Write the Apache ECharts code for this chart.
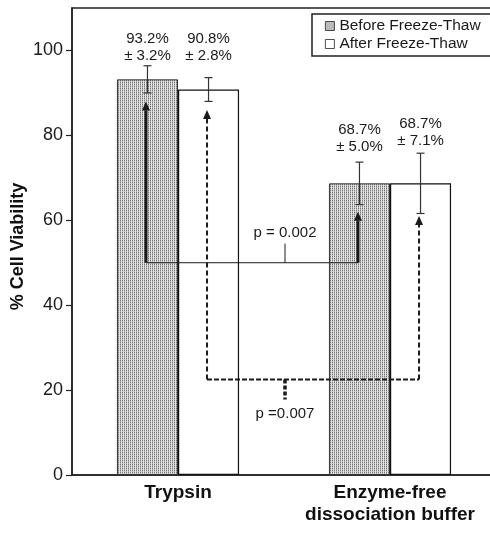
<!DOCTYPE html>
<html>
<head>
<meta charset="utf-8">
<script src="https://cdn.jsdelivr.net/npm/echarts@6/dist/echarts.min.js"></script>
<style>
  html, body { margin: 0; padding: 0; background: #fff; }
  #chart { width: 490px; height: 540px; }
</style>
</head>
<body>
<div id="chart"></div>
<script>
// ---- data ----
const categories = ['Trypsin', 'Enzyme-free\ndissociation buffer'];
const seriesNames = ['Before Freeze-Thaw', 'After Freeze-Thaw'];
const beforeValues = [93.2, 68.7];
const afterValues = [90.8, 68.7];
const beforeSD = [3.2, 5.0];
const afterSD = [2.8, 7.1];
const beforeLabelY = [100.7, 79.3];
const afterLabelY = [100.7, 80.8];
const yTicks = [0, 20, 40, 60, 80, 100];

// comparison brackets: p = 0.002 (before vs before), p = 0.007 (after vs after)
const bracketText = ['p = 0.002', 'p =0.007'];
const bracketGroup = [-1, 1];          // -1: before bars, 1: after bars
const bracketBase = [50, 22.5];
const bracketTipLeft = [88, 86];
const bracketTipRight = [62, 61];
const bracketTickEnd = [54.5, 17.8];
const bracketLabelY = [57, 14.4];
const bracketDashed = [false, true];

const BAR_FRAC = 0.288;
const FONT = '"Liberation Sans", Arial, Helvetica, sans-serif';
const INK = '#1a1a1a';

// texture for "before" bars
const pc = document.createElement('canvas');
pc.width = 2; pc.height = 2;
const pctx = pc.getContext('2d');
pctx.fillStyle = '#e4e4e4'; pctx.fillRect(0, 0, 2, 2);
pctx.fillStyle = '#767676'; pctx.fillRect(0, 0, 1, 1);
pctx.fillStyle = '#b2b2b2'; pctx.fillRect(0, 1, 1, 1);
const texture = { image: pc, repeat: 'repeat' };

function barCenter(api, cat, sign) {
  const band = api.size([1, 0])[0];
  return api.coord([cat, 0])[0] + sign * band * BAR_FRAC / 2;
}

const errorData = [];
const labelData = [];
for (let i = 0; i < categories.length; i++) {
  errorData.push([i, -1, beforeValues[i] - beforeSD[i], beforeValues[i] + beforeSD[i]]);
  errorData.push([i, 1, afterValues[i] - afterSD[i], afterValues[i] + afterSD[i]]);
  labelData.push([i, -1, beforeLabelY[i], beforeValues[i].toFixed(1) + '%\n± ' + beforeSD[i].toFixed(1) + '%']);
  labelData.push([i, 1, afterLabelY[i], afterValues[i].toFixed(1) + '%\n± ' + afterSD[i].toFixed(1) + '%']);
}

const chart = echarts.init(document.getElementById('chart'), null, { renderer: 'canvas' });

const option = {
  animation: false,
  backgroundColor: '#fff',
  grid: {
    left: 72, top: 8, right: -6, bottom: 65,
    outerBoundsMode: 'none',
    containLabel: false,
    show: true, borderColor: '#222', borderWidth: 1.5, backgroundColor: 'transparent'
  },
  legend: {
    data: seriesNames,
    orient: 'vertical',
    left: 312, top: 14,
    icon: 'rect',
    itemWidth: 9, itemHeight: 9, itemGap: 2,
    padding: [4, 40, 4, 13],
    borderColor: '#222', borderWidth: 1.5,
    backgroundColor: '#fff',
    selectedMode: false,
    itemStyle: { borderWidth: 0.8, borderColor: '#222' },
    textStyle: { fontFamily: FONT, fontSize: 15.5, color: INK }
  },
  xAxis: {
    type: 'category',
    data: categories,
    axisLine: { lineStyle: { color: '#222', width: 1.5 } },
    axisTick: { show: false },
    axisLabel: {
      fontFamily: FONT, fontSize: 19, fontWeight: 'bold', color: '#111',
      margin: 7, lineHeight: 22, interval: 0
    },
    splitLine: { show: false }
  },
  yAxis: {
    type: 'value',
    min: 0, max: 110, interval: 20,
    name: '% Cell Viability',
    nameLocation: 'middle',
    nameGap: 45,
    nameMoveOverlap: false,
    nameTextStyle: { fontFamily: FONT, fontSize: 18, fontWeight: 'bold', color: '#111', padding: [0, 10, 0, 0] },
    axisLine: { show: true, lineStyle: { color: '#222', width: 1.5 } },
    axisTick: { show: true, length: 6, customValues: yTicks, lineStyle: { color: '#222', width: 1.2 } },
    axisLabel: { fontFamily: FONT, fontSize: 18, color: INK, margin: 9, customValues: yTicks },
    splitLine: { show: false }
  },
  series: [
    {
      name: seriesNames[0], type: 'bar', data: beforeValues,
      barWidth: (BAR_FRAC * 100) + '%', barGap: '0%',
      itemStyle: { color: texture, borderColor: '#333', borderWidth: 1 }
    },
    {
      name: seriesNames[1], type: 'bar', data: afterValues,
      barWidth: (BAR_FRAC * 100) + '%', barGap: '0%',
      itemStyle: { color: '#fff', borderColor: '#111', borderWidth: 1.2 }
    },
    {
      name: 'errors', type: 'custom', data: errorData, z: 5,
      renderItem(params, api) {
        const cat = api.value(0), sign = api.value(1);
        const cx = barCenter(api, cat, sign);
        const yl = api.coord([cat, api.value(2)])[1];
        const yh = api.coord([cat, api.value(3)])[1];
        const st = { stroke: '#333', lineWidth: 1.2 };
        return { type: 'group', children: [
          { type: 'line', shape: { x1: cx, y1: yl, x2: cx, y2: yh }, style: st },
          { type: 'line', shape: { x1: cx - 4, y1: yh, x2: cx + 4, y2: yh }, style: st },
          { type: 'line', shape: { x1: cx - 4, y1: yl, x2: cx + 4, y2: yl }, style: st }
        ] };
      }
    },
    {
      name: 'valueLabels', type: 'custom', data: labelData, z: 6,
      renderItem(params, api) {
        const item = labelData[params.dataIndex];
        const cx = barCenter(api, item[0], item[1]);
        const cy = api.coord([item[0], item[2]])[1];
        return { type: 'text', style: {
          x: cx, y: cy, text: item[3], align: 'center', verticalAlign: 'middle',
          fontFamily: FONT, fontSize: 15, lineHeight: 17, fill: INK
        } };
      }
    },
    {
      name: 'brackets', type: 'custom', z: 7,
      data: bracketBase.map((b, i) => [i, b]),
      renderItem(params, api) {
        const i = params.dataIndex;
        const sign = bracketGroup[i];
        const dashed = bracketDashed[i];
        const xl = barCenter(api, 0, sign) - 1.5;
        const xr = barCenter(api, 1, sign) - 1.5;
        const xm = (api.coord([0, 0])[0] + api.coord([1, 0])[0]) / 2 + 1;
        const yb = api.coord([0, bracketBase[i]])[1];
        const ytl = api.coord([0, bracketTipLeft[i]])[1];
        const ytr = api.coord([0, bracketTipRight[i]])[1];
        const yte = api.coord([0, bracketTickEnd[i]])[1];
        const ylab = api.coord([0, bracketLabelY[i]])[1];
        const ah = 9, aw = 4;
        const vStyle = dashed
          ? { stroke: INK, lineWidth: 2, lineDash: [5, 3] }
          : { stroke: INK, lineWidth: 3 };
        const hStyle = dashed
          ? { stroke: INK, lineWidth: 2, lineDash: [5, 2] }
          : { stroke: INK, lineWidth: 1 };
        const tStyle = dashed
          ? { stroke: INK, lineWidth: 3.5, lineDash: [4, 2] }
          : { stroke: INK, lineWidth: 1 };
        return { type: 'group', children: [
          { type: 'line', shape: { x1: xl, y1: yb, x2: xr, y2: yb }, style: hStyle },
          { type: 'line', shape: { x1: xl, y1: yb, x2: xl, y2: ytl + ah }, style: vStyle },
          { type: 'line', shape: { x1: xr, y1: yb, x2: xr, y2: ytr + ah }, style: vStyle },
          { type: 'polygon', shape: { points: [[xl, ytl], [xl - aw, ytl + ah], [xl + aw, ytl + ah]] }, style: { fill: INK } },
          { type: 'polygon', shape: { points: [[xr, ytr], [xr - aw, ytr + ah], [xr + aw, ytr + ah]] }, style: { fill: INK } },
          { type: 'line', shape: { x1: xm, y1: yb, x2: xm, y2: yte }, style: tStyle },
          { type: 'text', style: {
            x: xm, y: ylab, text: bracketText[i], align: 'center', verticalAlign: 'middle',
            fontFamily: FONT, fontSize: 15, fill: INK
          } }
        ] };
      }
    }
  ]
};

chart.setOption(option);
</script>
</body>
</html>
